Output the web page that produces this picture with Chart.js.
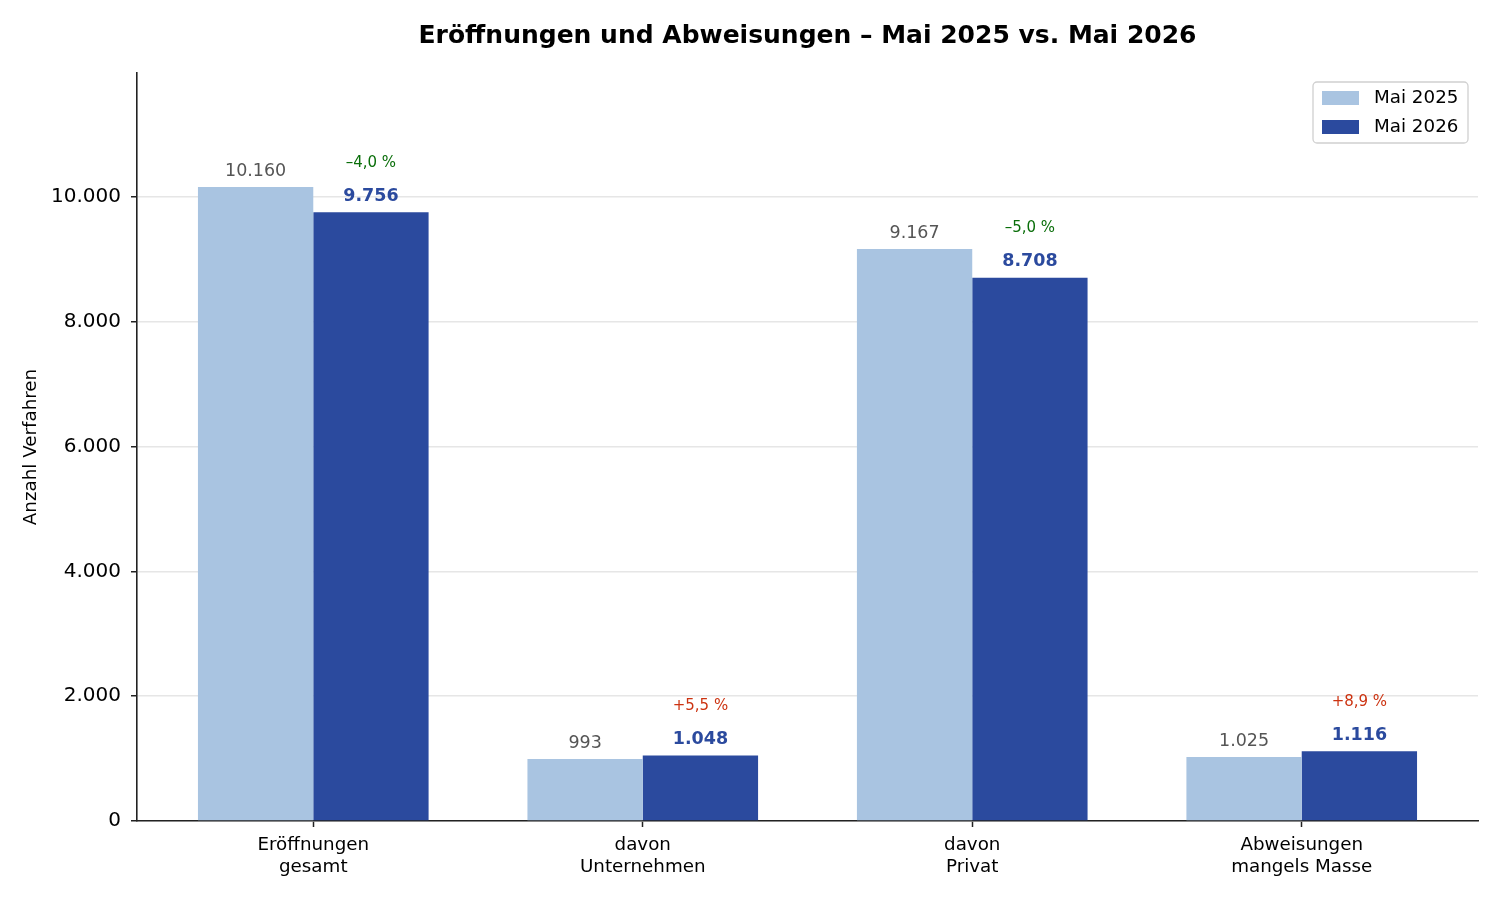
<!DOCTYPE html>
<html>
<head>
<meta charset="utf-8">
<script src="https://cdn.jsdelivr.net/npm/chart.js@4.4.1/dist/chart.umd.min.js"></script>
<style>
  html, body { margin: 0; padding: 0; background: #ffffff; }
  canvas { display: block; }
</style>
</head>
<body>
<canvas id="c" width="1500" height="900"></canvas>
<script>
// ---- data ----
const categories = [["Eröffnungen", "gesamt"], ["davon", "Unternehmen"], ["davon", "Privat"], ["Abweisungen", "mangels Masse"]];
const seriesLabels = ["Mai 2025", "Mai 2026"];
const values2025 = [10160, 993, 9167, 1025];
const values2026 = [9756, 1048, 8708, 1116];
const pctLabels = ["–4,0 %", "+5,5 %", "–5,0 %", "+8,9 %"];
const pctPositive = [false, true, false, true];
const yTicks = [0, 2000, 4000, 6000, 8000, 10000];
const yMax = 11988.8;

const FONT = "'DejaVu Sans', sans-serif";
const colLight = "#a9c4e1";
const colDark = "#2b4a9e";

function fmt(v) {
  return String(v).replace(/\B(?=(\d{3})+(?!\d))/g, ".");
}

const valueLabelPlugin = {
  id: "valueLabels",
  afterDatasetsDraw(chart) {
    const ctx = chart.ctx;
    ctx.save();
    ctx.textAlign = "center";
    ctx.textBaseline = "middle";
    const m0 = chart.getDatasetMeta(0);
    const m1 = chart.getDatasetMeta(1);
    m0.data.forEach((el, i) => {
      ctx.font = "17.5px " + FONT;
      ctx.fillStyle = "#555555";
      ctx.fillText(fmt(values2025[i]), el.x, el.y - 16);
    });
    m1.data.forEach((el, i) => {
      ctx.font = "bold 17.5px " + FONT;
      ctx.fillStyle = colDark;
      ctx.fillText(fmt(values2026[i]), el.x, el.y - 16);
      ctx.font = "15px " + FONT;
      ctx.fillStyle = pctPositive[i] ? "#cc3311" : "#0a6e0a";
      ctx.fillText(pctLabels[i], el.x, el.y - 49.5);
    });
    ctx.restore();
  }
};

const boxLegendPlugin = {
  id: "boxLegend",
  afterDraw(chart) {
    const ctx = chart.ctx;
    const area = chart.chartArea;
    const w = 155, h = 61;
    const x0 = area.right - 10 - w, y0 = area.top + 9;
    ctx.save();
    ctx.beginPath();
    const r = 4;
    ctx.moveTo(x0 + r, y0);
    ctx.arcTo(x0 + w, y0, x0 + w, y0 + h, r);
    ctx.arcTo(x0 + w, y0 + h, x0, y0 + h, r);
    ctx.arcTo(x0, y0 + h, x0, y0, r);
    ctx.arcTo(x0, y0, x0 + w, y0, r);
    ctx.closePath();
    ctx.fillStyle = "rgba(255,255,255,0.85)";
    ctx.fill();
    ctx.lineWidth = 1.3;
    ctx.strokeStyle = "#d0d0d0";
    ctx.stroke();
    chart.data.datasets.forEach((ds, i) => {
      const yy = y0 + 16 + i * 29;
      ctx.fillStyle = ds.backgroundColor;
      ctx.fillRect(x0 + 9, yy - 7, 37, 14);
      ctx.fillStyle = "#000000";
      ctx.font = "18.3px " + FONT;
      ctx.textAlign = "left";
      ctx.textBaseline = "middle";
      ctx.fillText(ds.label, x0 + 61, yy);
    });
    ctx.restore();
  }
};

new Chart(document.getElementById("c"), {
  type: "bar",
  data: {
    datasets: [
      { label: seriesLabels[0], data: values2025.map((v, i) => ({ x: i, y: v })), backgroundColor: colLight, borderWidth: 0 },
      { label: seriesLabels[1], data: values2026.map((v, i) => ({ x: i, y: v })), backgroundColor: colDark, borderWidth: 0 }
    ]
  },
  options: {
    responsive: false,
    devicePixelRatio: 1,
    animation: false,
    categoryPercentage: 0.7,
    barPercentage: 1.0,
    layout: { padding: { left: 0, right: 22, top: 0, bottom: 0 } },
    plugins: {
      legend: { display: false },
      tooltip: { enabled: false },
      title: {
        display: true,
        fullSize: false,
        text: "Eröffnungen und Abweisungen – Mai 2025 vs. Mai 2026",
        color: "#000000",
        font: { family: FONT, size: 25, weight: "bold", lineHeight: 1.2 },
        padding: { top: 21, bottom: 22 }
      }
    },
    scales: {
      x: {
        type: "linear",
        min: -0.535,
        max: 3.535,
        offset: false,
        afterBuildTicks(axis) { axis.ticks = categories.map((_, i) => ({ value: i })); },
        afterFit(axis) { axis.height = 79; },
        ticks: {
          callback: (v) => categories[v],
          color: "#000000",
          font: { family: FONT, size: 18.3, lineHeight: 1.2 },
          padding: 7,
          maxRotation: 0,
          autoSkip: false
        },
        grid: { display: true, offset: false, drawOnChartArea: false, drawTicks: true, tickLength: 6, tickColor: "#222222", tickWidth: 1.5 },
        border: { display: true, color: "#222222", width: 1.6 }
      },
      y: {
        type: "linear",
        min: 0,
        max: yMax,
        afterBuildTicks(axis) { axis.ticks = yTicks.map(v => ({ value: v })); },
        afterFit(axis) { axis.width = 137; },
        ticks: {
          callback: (v) => fmt(v),
          color: "#000000",
          font: { family: FONT, size: 20 },
          padding: 10,
          includeBounds: false
        },
        grid: { color: "#e6e6e6", lineWidth: 1.5, drawTicks: true, tickLength: 6, tickColor: "#222222", tickWidth: 1.5 },
        border: { display: true, color: "#222222", width: 1.6 },
        title: {
          display: true,
          text: "Anzahl Verfahren",
          color: "#000000",
          font: { family: FONT, size: 18.3, lineHeight: 1.2 },
          padding: { top: 20, bottom: 0 }
        }
      }
    }
  },
  plugins: [valueLabelPlugin, boxLegendPlugin]
});
</script>
</body>
</html>
